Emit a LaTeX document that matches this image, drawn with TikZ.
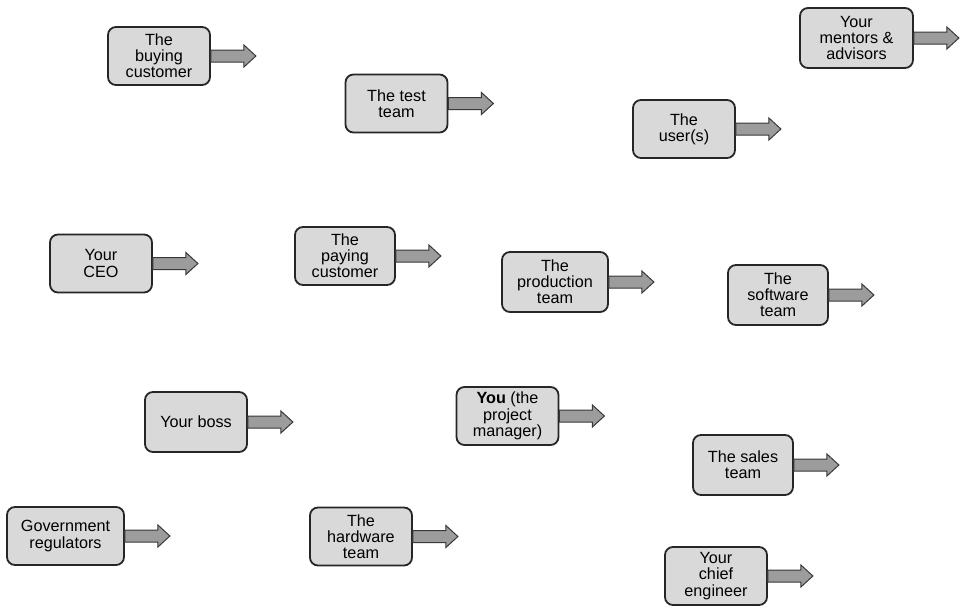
\documentclass[tikz,border=0pt]{standalone}
\usepackage{fontspec}
\setmainfont{Liberation Sans}
\usetikzlibrary{calc}
\definecolor{boxfill}{HTML}{D9D9D9}
\definecolor{boxline}{HTML}{262626}
\definecolor{arrowfill}{HTML}{9C9C9C}
\definecolor{arrowline}{HTML}{383838}
\begin{document}
\begin{tikzpicture}[x=1pt,y=-1pt,
  party/.style={draw=boxline, fill=boxfill, line width=1.8pt, rounded corners=8pt,
    minimum width=102pt, minimum height=58pt, inner sep=2pt, align=center,
    font=\fontsize{16.2}{16.2}\selectfont},
  blockarrow/.style={draw=arrowline, fill=arrowfill, line width=1pt, line join=miter,
    to path={let \p1=(\tikztostart), \p2=(\tikztotarget) in
      (\x1,\y1+6pt) -- (\x2-12pt,\y1+6pt) -- (\x2-12pt,\y1+11pt) -- (\x2,\y1)
      -- (\x2-12pt,\y1-11pt) -- (\x2-12pt,\y1-6pt) -- (\x1,\y1-6pt) -- cycle}}]
\useasboundingbox (0,0) rectangle (967,608);

% stakeholder boxes
\node[party] (buying) at (159,56) {The\\buying\\customer};
\node[party] (test) at (396.5,103.5) {The test\\team};
\node[party] (user) at (684,129) {The\\user(s)};
\node[party, minimum width=113pt, minimum height=60pt] (mentors) at (856.5,38) {Your\\mentors \&\\advisors};
\node[party] (ceo) at (101,263.5) {Your\\CEO};
\node[party, minimum width=100pt] (paying) at (345,256) {The\\paying\\customer};
\node[party, minimum width=106pt, minimum height=60pt] (production) at (555,282) {The\\production\\team};
\node[party, minimum width=100pt, minimum height=60pt] (software) at (778,295) {The\\software\\team};
\node[party, minimum height=60pt] (boss) at (196,422) {Your boss};
\node[party] (you) at (507.5,416) {\textbf{You} (the\\project\\manager)};
\node[party, minimum width=100pt, minimum height=60pt] (sales) at (743,465) {The sales\\team};
\node[party, minimum width=117pt] (gov) at (65.5,536) {Government\\regulators};
\node[party] (hardware) at (361,536.5) {The\\hardware\\team};
\node[party] (chief) at (716,576) {Your\\chief\\engineer};

% block arrows leaving each box
\foreach \k in {buying,test,user,mentors,ceo,paying,production,software,boss,you,sales,gov,hardware,chief}{
  \coordinate (\k-tip) at ([xshift=45pt]\k.east);
  \draw[blockarrow] (\k.east) to (\k-tip);
}
\end{tikzpicture}
\end{document}
